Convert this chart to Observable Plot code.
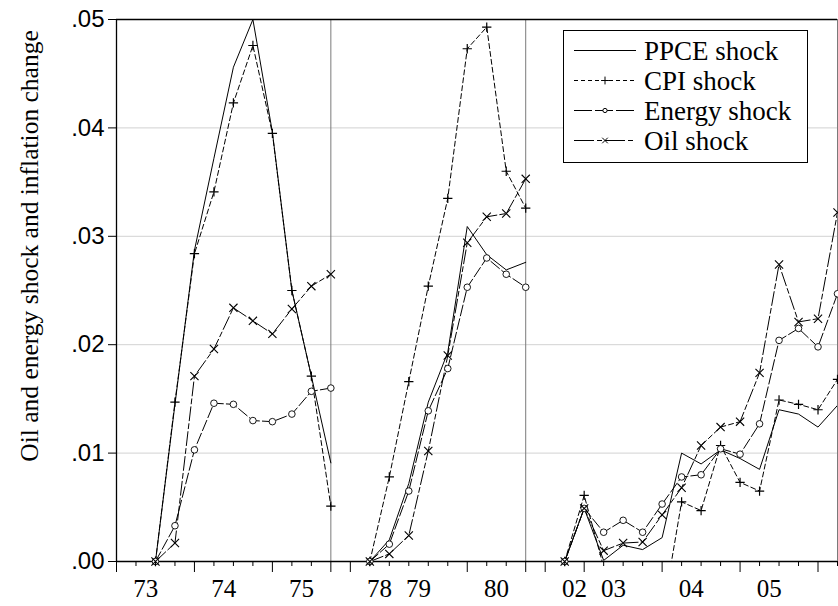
<!DOCTYPE html>
<html><head><meta charset="utf-8">
<script src="https://cdn.jsdelivr.net/npm/d3@7"></script>
<script src="https://cdn.jsdelivr.net/npm/@observablehq/plot@0.6"></script>
<style>body{margin:0;background:#fff} svg{display:block}</style>
</head><body><div id="chart"></div>
<script>
// ---- data ----
const seriesNames = ["PPCE shock", "CPI shock", "Energy shock", "Oil shock"];
const panelRanges = [["1973Q1", "1975Q4"], ["1978Q2", "1980Q4"], ["2002Q2", "2006Q2"]];
const panelFirstObs = ["1973Q3", "1978Q4", "2002Q4"];

const ppce1   = [0, .0145, .0287, .0372, .0456, .0500, .0396, .0250, .0171, .0091];
const cpi1    = [0, .0147, .0284, .0341, .0423, .0476, .0395, .0250, .0171, .0051];
const energy1 = [0, .0033, .0103, .0146, .0145, .0130, .0129, .0136, .0157, .0160];
const oil1    = [0, .0017, .0171, .0196, .0234, .0222, .0210, .0233, .0254, .0265];

const ppce2   = [0, .0020, .0072, .0147, .0193, .0309, .0283, .0269, .0276];
const cpi2    = [0, .0078, .0166, .0254, .0335, .0473, .0493, .0360, .0326];
const energy2 = [0, .0016, .0065, .0139, .0178, .0253, .0280, .0265, .0253];
const oil2    = [0, .0007, .0024, .0102, .0190, .0294, .0318, .0321, .0353];

const ppce3   = [0, .0049, .0001, .0015, .0011, .0022, .0100, .0090, .0103, .0095, .0085, .0140, .0136, .0124, .0144];
const cpi3    = [0, .0061, -.0005, -.0020, -.0030, -.0051, .0055, .0047, .0107, .0073, .0065, .0149, .0145, .0140, .0168];
const energy3 = [0, .0049, .0027, .0038, .0027, .0053, .0078, .0080, .0104, .0099, .0127, .0204, .0215, .0198, .0247];
const oil3    = [0, .0049, .0010, .0017, .0018, .0043, .0068, .0107, .0124, .0129, .0174, .0274, .0221, .0224, .0322];

const yTicks = [0, .01, .02, .03, .04, .05];
const yTitle = "Oil and energy shock and inflation change";
const xLabels = ["73", "74", "75", "78", "79", "80", "02", "03", "04", "05"];
const xLabelPeriods = ["1973Q3", "1974Q3", "1975Q3", "1979Q1", "1979Q3", "1980Q3", "2003Q1", "2003Q3", "2004Q3", "2005Q3"];
const longTickPeriods = ["1973Q1", "1974Q1", "1975Q1", "1975Q4", "1978Q3", "1980Q1", "1980Q4", "2002Q3", "2003Q1", "2004Q1", "2005Q1", "2006Q1"];

// ---- helpers ----
const qnum = p => { const [y, q] = p.split("Q").map(Number); return y * 4 + q - 1; };
const slotStart = []; let acc = 0;
panelRanges.forEach(r => { slotStart.push(acc); acc += qnum(r[1]) - qnum(r[0]); });
const totalSlots = acc;
const panelOf = p => panelRanges.findIndex(r => qnum(p) >= qnum(r[0]) && qnum(p) <= qnum(r[1]));
const slotOf = (k, p) => slotStart[k] + qnum(p) - qnum(panelRanges[k][0]);
const slotAny = p => slotOf(panelOf(p), p);

const panelSeries = [
  [ppce1, cpi1, energy1, oil1],
  [ppce2, cpi2, energy2, oil2],
  [ppce3, cpi3, energy3, oil3]
];
const rows = [];
panelSeries.forEach((arrs, k) => {
  arrs.forEach((vals, s) => {
    vals.forEach((v, i) => {
      rows.push({panel: k, series: seriesNames[s], slot: slotOf(k, panelFirstObs[k]) + i, value: v});
    });
  });
});
const bySeries = name => rows.filter(d => d.series === name);

const allSlots = d3.range(0, totalSlots + 1);
const longSlots = longTickPeriods.map(slotAny);
const shortSlots = allSlots.filter(s => !longSlots.includes(s));
const labelSlots = xLabelPeriods.map(p => slotAny(p) - 0.5);
const dividerSlots = slotStart.slice(1).concat([totalSlots]);

const styles = {
  "PPCE shock":   {dash: null,       legendDash: null,       symbol: null},
  "CPI shock":    {dash: "5,3",      legendDash: "4,3",      symbol: "plus"},
  "Energy shock": {dash: "11,3",     legendDash: "18,3",     symbol: "circle"},
  "Oil shock":    {dash: "14,3,5,3", legendDash: "20,3,5,3", symbol: "times"}
};

const lineMarks = seriesNames.map(n => Plot.line(bySeries(n), {
  x: "slot", y: "value", z: "panel", stroke: "black", strokeWidth: 1,
  strokeDasharray: styles[n].dash || undefined, clip: true
}));
const dotMarks = [
  Plot.dot(bySeries("CPI shock").filter(d => d.value >= 0), {x: "slot", y: "value", symbol: "plus", r: 3.1, stroke: "black", strokeWidth: 1.2}),
  Plot.dot(bySeries("Energy shock"), {x: "slot", y: "value", symbol: "circle", r: 3.3, fill: "white", stroke: "black", strokeWidth: 0.9}),
  Plot.dot(bySeries("Oil shock"), {x: "slot", y: "value", symbol: "times", r: 3.8, stroke: "black", strokeWidth: 1.1})
];

const chart = Plot.plot({
  width: 838, height: 606,
  marginLeft: 116, marginRight: 1, marginTop: 19, marginBottom: 45,
  style: {background: "white"},
  x: {domain: [0, totalSlots], axis: null},
  y: {domain: [0, 0.05], axis: null},
  marks: [
    Plot.ruleY(yTicks.filter(v => v > 0 && v < 0.05), {stroke: "#d2d2d2", strokeWidth: 1}),
    Plot.ruleX(dividerSlots, {stroke: "#7a7a7a", strokeWidth: 1}),
    Plot.ruleY([0.05], {stroke: "black", strokeWidth: 1.3}),
    Plot.ruleY([0], {stroke: "black", strokeWidth: 1.3}),
    Plot.ruleX([0], {stroke: "black", strokeWidth: 1.3}),
    ...lineMarks,
    ...dotMarks,
    Plot.axisY(yTicks, {tickSize: 8, tickPadding: 4, tickFormat: d => d.toFixed(2).replace(/^0/, ""),
      fontSize: 24, fontFamily: "Liberation Sans, Arial, sans-serif", label: null, stroke: "black"}),
    Plot.axisX(shortSlots, {tickSize: 5, tickFormat: () => "", label: null, stroke: "black"}),
    Plot.axisX(longSlots, {tickSize: 11, tickFormat: () => "", label: null, stroke: "black"}),
    Plot.text(labelSlots, {x: d => d, frameAnchor: "bottom", dy: 35, text: (d, i) => xLabels[i],
      fontSize: 25, fontFamily: "Liberation Serif, Times New Roman, serif", fill: "black"})
  ]
});
document.getElementById("chart").appendChild(chart);

// ---- y-axis title and legend ----
const svg = d3.select(chart);
svg.append("text")
  .attr("transform", "translate(38,246) rotate(-90)")
  .attr("text-anchor", "middle")
  .attr("font-family", "Liberation Serif, Times New Roman, serif")
  .attr("font-size", 25.5)
  .attr("fill", "black")
  .text(yTitle);

const lg = svg.append("g");
lg.append("rect").attr("x", 563.5).attr("y", 30.5).attr("width", 244).attr("height", 132)
  .attr("fill", "white").attr("stroke", "black").attr("stroke-width", 1);
const symMap = {plus: d3.symbolPlus, circle: d3.symbolCircle, times: d3.symbolTimes};
seriesNames.forEach((n, i) => {
  const y = 50.5 + i * 30;
  lg.append("line").attr("x1", 574).attr("x2", 636).attr("y1", y).attr("y2", y)
    .attr("stroke", "black").attr("stroke-width", 1)
    .attr("stroke-dasharray", styles[n].legendDash);
  if (styles[n].symbol) {
    lg.append("path").attr("transform", `translate(605,${y})`)
      .attr("d", d3.symbol(symMap[styles[n].symbol], styles[n].symbol === "circle" ? 14 : 22)())
      .attr("fill", styles[n].symbol === "circle" ? "white" : "none")
      .attr("stroke", "black").attr("stroke-width", 1);
  }
  lg.append("text").attr("x", 644).attr("y", y + 9)
    .attr("text-anchor", "start")
    .attr("font-family", "Liberation Serif, Times New Roman, serif")
    .attr("font-size", 27).attr("fill", "black").text(n);
});
</script></body></html>
